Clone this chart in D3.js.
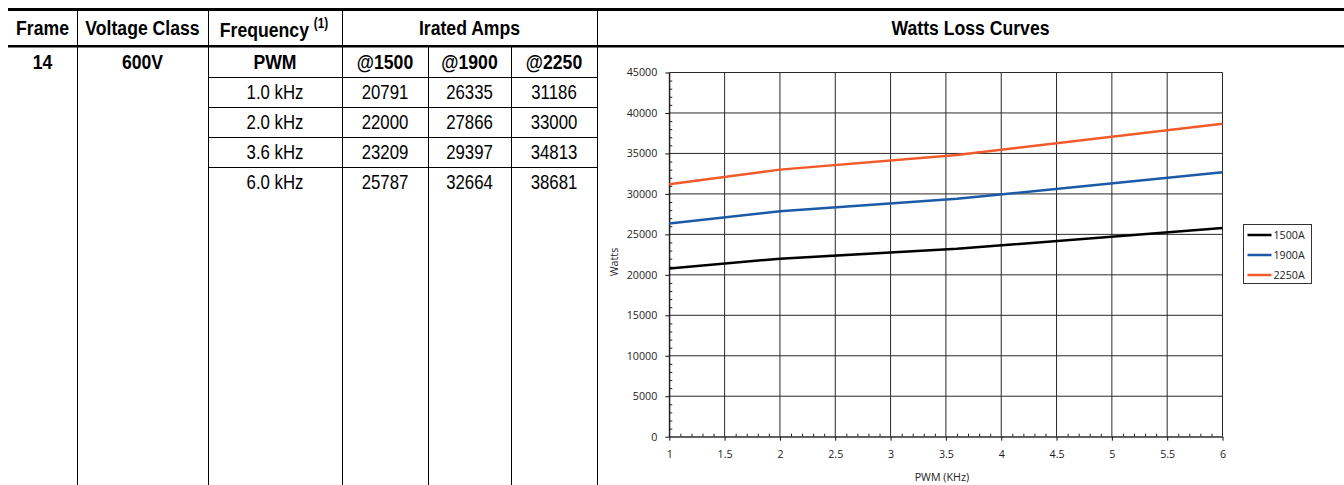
<!DOCTYPE html>
<html>
<head>
<meta charset="utf-8">
<script src="https://cdn.jsdelivr.net/npm/d3@7"></script>
<style>
  body { margin: 0; background: #fff; }
  svg { display: block; }
  .tbl text { font-family: "Liberation Sans", Arial, sans-serif; fill: #000; font-size: 20px; }
  .tbl .hdr { font-weight: bold; font-size: 21px; }
  .chart text { font-family: "Open Sans", "DejaVu Sans", sans-serif; fill: #222; }
</style>
</head>
<body>
<div id="chart"></div>
<script>
// Table / chart values
const frequencies = ["1.0 kHz", "2.0 kHz", "3.6 kHz", "6.0 kHz"];
const pwmKhz = [1.0, 2.0, 3.6, 6.0];
const amps1500 = [20791, 22000, 23209, 25787];
const amps1900 = [26335, 27866, 29397, 32664];
const amps2250 = [31186, 33000, 34813, 38681];
const ampHeaders = ["@1500", "@1900", "@2250"];
const seriesNames = ["1500A", "1900A", "2250A"];
const seriesColors = ["#000000", "#1b5aa6", "#f25a29"];
const xTickValues = [1, 1.5, 2, 2.5, 3, 3.5, 4, 4.5, 5, 5.5, 6];
const yTickValues = [0, 5000, 10000, 15000, 20000, 25000, 30000, 35000, 40000, 45000];

const W = 1344, H = 485;

const svg = d3.select("#chart").append("svg")
    .attr("width", W)
    .attr("height", H);

// ---- table part ----
// column edges
const cols = [8, 77, 208, 342, 428, 511, 597, W];
const headerTop = 8, headerBottom = 45.5;
const rowH = 30;
const pwmRowTop = 47;
const firstRowTop = pwmRowTop + rowH;

// the printed table uses a condensed face, so squeeze a normal one
const boldSqueeze = 0.84, regSqueeze = 0.84;

const tbl = svg.append("g").attr("class", "tbl");
const mid = (a, b) => (a + b) / 2;

// vertical dividers
[1, 2, 6].forEach(i => {
    tbl.append("line")
        .attr("x1", cols[i] + 0.5).attr("x2", cols[i] + 0.5)
        .attr("y1", headerTop).attr("y2", H)
        .attr("stroke", "#000");
});
[3, 4, 5].forEach(i => {
    tbl.append("line")
        .attr("x1", cols[i] + 0.5).attr("x2", cols[i] + 0.5)
        .attr("y1", i === 3 ? headerTop : headerBottom).attr("y2", H)
        .attr("stroke", "#000");
});

// horizontal row lines (frequency + amps columns)
d3.range(frequencies.length).forEach(i => {
    const y = firstRowTop + i * rowH;
    tbl.append("line")
        .attr("x1", cols[2]).attr("x2", cols[6])
        .attr("y1", y + 0.5).attr("y2", y + 0.5)
        .attr("stroke", "#000");
});

// thick top and header rules
tbl.append("rect").attr("x", cols[0]).attr("y", headerTop)
    .attr("width", W - cols[0]).attr("height", 3).attr("fill", "#000");
tbl.append("rect").attr("x", cols[0]).attr("y", headerBottom - 0.5)
    .attr("width", W - cols[0]).attr("height", 2.5).attr("fill", "#000");

// header texts
const headerY = 35;
const headers = [
    { t: "Frame", x: mid(cols[0], cols[1]) },
    { t: "Voltage Class", x: mid(cols[1], cols[2]) },
    { t: "Irated Amps", x: mid(cols[3], cols[6]) },
    { t: "Watts Loss Curves", x: mid(cols[6], cols[7]) }
];
tbl.selectAll("text.h").data(headers).join("text")
    .attr("class", "hdr h")
    .attr("transform", d => `translate(${d.x},${headerY}) scale(${boldSqueeze},1)`)
    .attr("text-anchor", "middle")
    .text(d => d.t);

const freqHdr = tbl.append("text")
    .attr("class", "hdr")
    .attr("transform", `translate(${mid(cols[2], cols[3]) - 1},${headerY + 2}) scale(${boldSqueeze},1)`)
    .attr("text-anchor", "middle");
freqHdr.append("tspan").text("Frequency ");
freqHdr.append("tspan").attr("dy", -9).style("font-size", "14px").text("(1)");

// second row (bold)
const row2Y = pwmRowTop + 22;
const row2 = [
    { t: "14", x: mid(cols[0], cols[1]) },
    { t: "600V", x: mid(cols[1], cols[2]) },
    { t: "PWM", x: mid(cols[2], cols[3]) }
].concat(ampHeaders.map((h, i) => ({ t: h, x: mid(cols[3 + i], cols[4 + i]) })));
tbl.selectAll("text.r2").data(row2).join("text")
    .attr("class", "hdr r2")
    .attr("transform", d => `translate(${d.x},${row2Y}) scale(${boldSqueeze},1)`)
    .attr("text-anchor", "middle")
    .text(d => d.t);

// value rows
const ampCols = [amps1500, amps1900, amps2250];
frequencies.forEach((f, r) => {
    const y = firstRowTop + r * rowH + 22;
    const cells = [f].concat(ampCols.map(a => a[r]));
    tbl.selectAll("text.v" + r).data(cells).join("text")
        .attr("class", "v" + r)
        .attr("transform", (d, i) => `translate(${mid(cols[2 + i], cols[3 + i])},${y}) scale(${regSqueeze},1)`)
        .attr("text-anchor", "middle")
        .text(d => d);
});

// ---- chart part ----
const plot = { left: 669.3, right: 1222.5, top: 72.5, bottom: 436.7 };
const chart = svg.append("g").attr("class", "chart");

const x = d3.scaleLinear().domain([1, 6]).range([plot.left, plot.right]);
const y = d3.scaleLinear().domain([0, 45000]).range([plot.bottom, plot.top]);

// grid
chart.append("g").selectAll("line").data(yTickValues).join("line")
    .attr("x1", plot.left).attr("x2", plot.right)
    .attr("y1", d => y(d)).attr("y2", d => y(d))
    .attr("stroke", "#2a2a2a").attr("stroke-width", 1);
chart.append("g").selectAll("line").data(xTickValues).join("line")
    .attr("y1", plot.top).attr("y2", plot.bottom)
    .attr("x1", d => x(d)).attr("x2", d => x(d))
    .attr("stroke", "#2a2a2a").attr("stroke-width", 1);

// minor ticks (inside)
const yMinor = d3.range(0, 45001, 1000).filter(v => v % 5000 !== 0);
const xMinor = d3.range(10, 61).map(v => v / 10).filter(v => Math.round(v * 10) % 5 !== 0);

chart.append("g")
    .attr("transform", `translate(${plot.left},0)`)
    .call(d3.axisRight(y).tickValues(yMinor).tickSize(3).tickFormat(""))
    .call(g => g.select(".domain").remove())
    .call(g => g.selectAll(".tick line").attr("stroke", "#222"));
chart.append("g")
    .attr("transform", `translate(0,${plot.bottom})`)
    .call(d3.axisTop(x).tickValues(xMinor).tickSize(3).tickFormat(""))
    .call(g => g.select(".domain").remove())
    .call(g => g.selectAll(".tick line").attr("stroke", "#222"));

// major axes
const yAxis = chart.append("g")
    .attr("transform", `translate(${plot.left},0)`)
    .call(d3.axisLeft(y).tickValues(yTickValues).tickSize(4).tickPadding(8).tickFormat(d3.format("d")).tickSizeOuter(0));
yAxis.select(".domain").attr("stroke", "#111");
yAxis.selectAll(".tick line").attr("stroke", "#111");
yAxis.selectAll("text").style("font-size", "10.7px");

const xAxis = chart.append("g")
    .attr("transform", `translate(0,${plot.bottom})`)
    .call(d3.axisBottom(x).tickValues(xTickValues).tickSize(4).tickPadding(10).tickFormat(d3.format("")).tickSizeOuter(0));
xAxis.select(".domain").attr("stroke", "#666").attr("stroke-width", 1.6);
xAxis.selectAll(".tick line").attr("stroke", "#111");
xAxis.selectAll("text").style("font-size", "10.7px");

// axis titles
chart.append("text")
    .attr("x", mid(plot.left, plot.right) - 4).attr("y", 481)
    .attr("text-anchor", "middle")
    .style("font-size", "10.7px")
    .text("PWM (KHz)");
chart.append("text")
    .attr("transform", `translate(618,262) rotate(-90)`)
    .attr("text-anchor", "middle")
    .style("font-size", "10.7px")
    .text("Watts");

// series lines
const series = [amps1500, amps1900, amps2250];
const line = d3.line()
    .x((d, i) => x(pwmKhz[i]))
    .y(d => y(d));
chart.append("g").selectAll("path").data(series).join("path")
    .attr("d", d => line(d))
    .attr("fill", "none")
    .attr("stroke", (d, i) => seriesColors[i])
    .attr("stroke-width", 2.5);

// legend
const legend = chart.append("g").attr("transform", "translate(1243.5,224.5)");
legend.append("rect")
    .attr("width", 68).attr("height", 59)
    .attr("fill", "#fff").attr("stroke", "#333");
const items = legend.selectAll("g").data(seriesNames).join("g")
    .attr("transform", (d, i) => `translate(0,${10.5 + i * 20})`);
items.append("line")
    .attr("x1", 4).attr("x2", 28)
    .attr("stroke", (d, i) => seriesColors[i])
    .attr("stroke-width", 2.5);
items.append("text")
    .attr("x", 30).attr("dy", "0.36em")
    .style("font-size", "10.7px")
    .text(d => d);
</script>
</body>
</html>
